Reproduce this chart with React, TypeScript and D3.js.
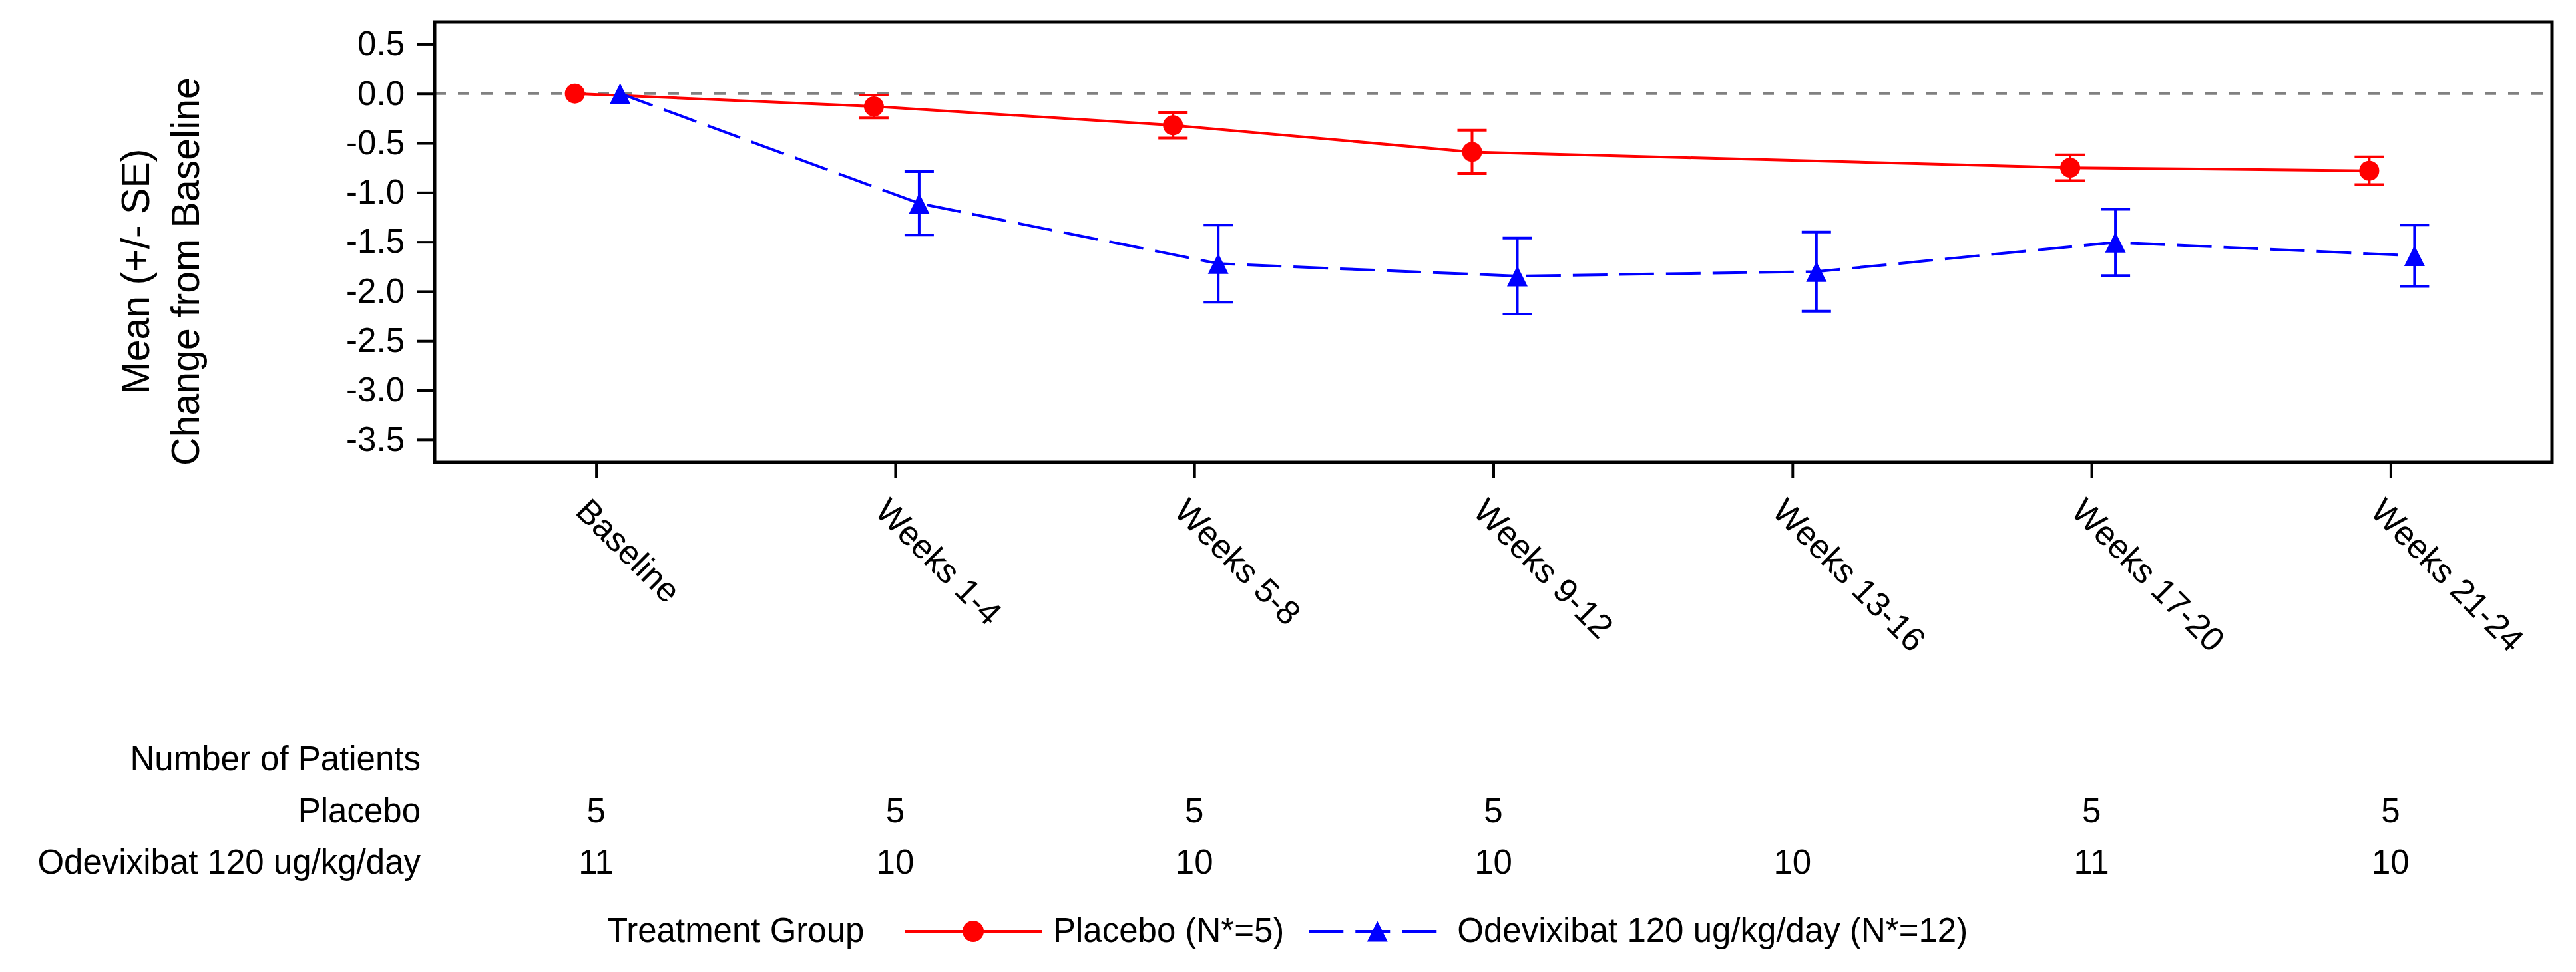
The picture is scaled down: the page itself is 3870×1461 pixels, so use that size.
import { useEffect, useRef } from 'react';
import * as d3 from 'd3';

// Visits on the x axis
const visits = ['Baseline', 'Weeks 1-4', 'Weeks 5-8', 'Weeks 9-12', 'Weeks 13-16', 'Weeks 17-20', 'Weeks 21-24'];

// Placebo: mean change and SE (null = no data at that visit)
const placeboMean = [0, -0.13, -0.32, -0.59, null, -0.75, -0.78];
const placeboSE = [0, 0.115, 0.13, 0.22, null, 0.13, 0.14];

// Odevixibat 120 ug/kg/day: mean change and SE
const odeMean = [0, -1.11, -1.72, -1.845, -1.80, -1.505, -1.64];
const odeSE = [0, 0.32, 0.39, 0.385, 0.40, 0.335, 0.31];

// Number of patients table
const placeboN = [5, 5, 5, 5, null, 5, 5];
const odeN = [11, 10, 10, 10, 10, 11, 10];

const yTicks = [0.5, 0, -0.5, -1, -1.5, -2, -2.5, -3, -3.5];

const legendItems = [
  { label: 'Placebo (N*=5)', color: '#ff0000', shape: 'circle', dash: null },
  { label: 'Odevixibat 120 ug/kg/day (N*=12)', color: '#0000ff', shape: 'triangle', dash: '52,18' },
];

const FONT = 'Arial, "Liberation Sans", Helvetica, sans-serif';
const FS = '51px';

export default function App() {
  const svgRef = useRef<SVGSVGElement>(null);

  useEffect(() => {
    if (!svgRef.current) return;
    const svg = d3.select(svgRef.current);
    svg.selectAll('*').remove();

    const width = 3870;
    const height = 1461;
    const plot = { left: 653, top: 33, right: 3834, bottom: 695 };

    svg.attr('width', width).attr('height', height).style('font-family', FONT);

    svg.append('rect').attr('width', width).attr('height', height).attr('fill', '#fff');

    const x = d3.scalePoint<string>()
      .domain(visits)
      .range([plot.left, plot.right])
      .padding(0.54);

    const y = d3.scaleLinear()
      .domain([-3.73, 0.725])
      .range([plot.bottom, plot.top]);

    const offsets = { placebo: -32, ode: 36 };

    // Reference line at 0
    svg.append('line')
      .attr('x1', plot.left)
      .attr('x2', plot.right)
      .attr('y1', y(0))
      .attr('y2', y(0))
      .attr('stroke', '#808080')
      .attr('stroke-width', 4)
      .attr('stroke-dasharray', '17,18');

    const series = [
      { key: 'placebo', mean: placeboMean, se: placeboSE, color: '#ff0000', dash: null, shape: 'circle', dx: offsets.placebo },
      { key: 'ode', mean: odeMean, se: odeSE, color: '#0000ff', dash: '52,18', shape: 'triangle', dx: offsets.ode },
    ];

    const triangle = (s: number) => `M0,${-s / 2}L${s / 2},${s / 2}L${-s / 2},${s / 2}Z`;

    series.forEach(s => {
      const pts = visits
        .map((v, i) => ({ v, m: s.mean[i], se: s.se[i] }))
        .filter(d => d.m !== null) as { v: string; m: number; se: number }[];

      const line = d3.line<{ v: string; m: number }>()
        .x(d => (x(d.v) as number) + s.dx)
        .y(d => y(d.m));

      svg.append('path')
        .datum(pts)
        .attr('d', line)
        .attr('fill', 'none')
        .attr('stroke', s.color)
        .attr('stroke-width', 4)
        .attr('stroke-dasharray', s.dash);

      // Error bars
      const eb = svg.append('g')
        .selectAll('g')
        .data(pts.filter(d => d.se > 0))
        .enter()
        .append('g')
        .attr('stroke', s.color)
        .attr('stroke-width', 4);

      eb.append('line')
        .attr('x1', d => (x(d.v) as number) + s.dx)
        .attr('x2', d => (x(d.v) as number) + s.dx)
        .attr('y1', d => y(d.m + d.se))
        .attr('y2', d => y(d.m - d.se));

      [1, -1].forEach(sign => {
        eb.append('line')
          .attr('x1', d => (x(d.v) as number) + s.dx - 22)
          .attr('x2', d => (x(d.v) as number) + s.dx + 22)
          .attr('y1', d => y(d.m + sign * d.se))
          .attr('y2', d => y(d.m + sign * d.se));
      });

      // Markers
      const mk = svg.append('g')
        .selectAll('g')
        .data(pts)
        .enter()
        .append('g')
        .attr('transform', d => `translate(${(x(d.v) as number) + s.dx},${y(d.m)})`);

      if (s.shape === 'circle') {
        mk.append('circle').attr('r', 15).attr('fill', s.color);
      } else {
        mk.append('path').attr('d', triangle(31)).attr('fill', s.color);
      }
    });

    // Frame
    svg.append('rect')
      .attr('x', plot.left)
      .attr('y', plot.top)
      .attr('width', plot.right - plot.left)
      .attr('height', plot.bottom - plot.top)
      .attr('fill', 'none')
      .attr('stroke', '#000')
      .attr('stroke-width', 5);

    // Y axis
    const yAxis = d3.axisLeft(y)
      .tickValues(yTicks)
      .tickSize(27)
      .tickPadding(18)
      .tickFormat(d => (+d).toFixed(1));

    const yg = svg.append('g')
      .attr('transform', `translate(${plot.left},0)`)
      .call(yAxis);
    yg.select('.domain').remove();
    yg.selectAll('line').attr('stroke', '#000').attr('stroke-width', 4);
    yg.selectAll('text')
      .attr('fill', '#000')
      .style('font-size', FS)
      .style('font-family', FONT);

    // X axis ticks
    const xAxis = d3.axisBottom(x).tickSize(24).tickFormat(() => '');
    const xg = svg.append('g')
      .attr('transform', `translate(0,${plot.bottom})`)
      .call(xAxis);
    xg.select('.domain').remove();
    xg.selectAll('line').attr('stroke', '#000').attr('stroke-width', 4);

    // Rotated x labels
    svg.append('g')
      .selectAll('text')
      .data(visits)
      .enter()
      .append('text')
      .attr('transform', d => `translate(${(x(d) as number) - 33},771) rotate(45)`)
      .attr('text-anchor', 'start')
      .style('font-size', FS)
      .text(d => d);

    // Y axis label
    const yLabel = svg.append('g').attr('transform', 'translate(0,408)');
    yLabel.append('text')
      .attr('transform', 'translate(224,0) rotate(-90)')
      .attr('text-anchor', 'middle')
      .style('font-size', '59px')
      .text('Mean (+/- SE)');
    yLabel.append('text')
      .attr('transform', 'translate(299,0) rotate(-90)')
      .attr('text-anchor', 'middle')
      .style('font-size', '59px')
      .text('Change from Baseline');

    // Number of patients table
    const tableX = 632;
    svg.append('text')
      .attr('x', tableX).attr('y', 1158)
      .attr('text-anchor', 'end')
      .style('font-size', FS)
      .text('Number of Patients');

    const rows = [
      { label: 'Placebo', counts: placeboN, y: 1236 },
      { label: 'Odevixibat 120 ug/kg/day', counts: odeN, y: 1313 },
    ];

    rows.forEach(r => {
      svg.append('text')
        .attr('x', tableX).attr('y', r.y)
        .attr('text-anchor', 'end')
        .style('font-size', FS)
        .text(r.label);

      svg.append('g')
        .selectAll('text')
        .data(visits.map((v, i) => ({ v, n: r.counts[i] })).filter(d => d.n !== null))
        .enter()
        .append('text')
        .attr('x', d => x(d.v) as number)
        .attr('y', r.y)
        .attr('text-anchor', 'middle')
        .style('font-size', FS)
        .text(d => String(d.n));
    });

    // Legend
    const legendY = 1400;
    svg.append('text')
      .attr('x', 912).attr('y', 1416)
      .style('font-size', FS)
      .text('Treatment Group');

    let lx = 1359;
    legendItems.forEach(item => {
      const sw = 206;
      svg.append('line')
        .attr('x1', lx).attr('x2', lx + sw)
        .attr('y1', legendY).attr('y2', legendY)
        .attr('stroke', item.color)
        .attr('stroke-width', 4)
        .attr('stroke-dasharray', item.dash);

      const m = svg.append('g').attr('transform', `translate(${lx + sw / 2},${legendY})`);
      if (item.shape === 'circle') {
        m.append('circle').attr('r', 16).attr('fill', item.color);
      } else {
        m.append('path').attr('d', triangle(31)).attr('fill', item.color);
      }

      const t = svg.append('text')
        .attr('x', lx + sw + 17).attr('y', 1416)
        .style('font-size', FS)
        .text(item.label);

      const len = (t.node() as SVGTextElement).getComputedTextLength();
      lx = lx + sw + 17 + len + 37;
    });
  }, []);

  return (
    <svg
      ref={svgRef}
      width={3870}
      height={1461}
      style={{ position: 'absolute', left: 0, top: 0, display: 'block' }}
    />
  );
}
